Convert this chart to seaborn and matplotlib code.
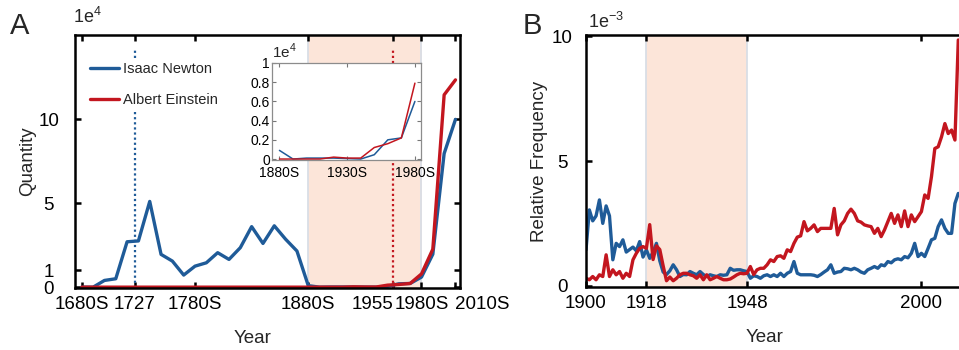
import matplotlib
matplotlib.use("Agg")
import matplotlib.pyplot as plt
import pandas as pd
import seaborn as sns

# panel A: quantity per decade (units of 1e4)
decades = list(range(1680, 2011, 10))
newton_qty = [0, 0, 0.4, 0.5, 2.7, 2.75, 5.1, 1.95, 1.55, 0.72,
              1.25, 1.45, 2.05, 1.65, 2.35, 3.6, 2.6, 3.65, 2.85, 2.15,
              0.09, 0.0, 0.01, 0.01, 0.01, 0.005, 0.0, 0.045, 0.2, 0.22,
              0.6, 1.96, 7.95, 9.98]
einstein_qty = [0] * 24 + [0.02, 0.01, 0.01, 0.12, 0.16, 0.22, 0.79, 2.26, 11.44, 12.33]

x_ticks_a = [1680, 1727, 1780, 1880, 1955, 1980, 2010]
x_labels_a = ["1680S", "1727", "1780S", "1880S", "1955", "1980S", "2010S"]
inset_ticks = [1880, 1930, 1980]
inset_labels = ["1880S", "1930S", "1980S"]

# panel B: relative frequency per year (units of 1e-3)
years = list(range(1900, 2012))
newton_freq = [1.44, 3.04, 2.6, 2.8, 3.44, 2.5, 3.2, 2.8, 1.04, 1.7,
               1.57, 1.84, 1.35, 1.45, 1.55, 1.4, 1.77, 1.15, 1.44, 1.1,
               1.35, 1.7, 1.0, 0.55, 0.45, 0.6, 0.84, 0.64, 0.37, 0.45,
               0.44, 0.57, 0.5, 0.44, 0.57, 0.45, 0.37, 0.44, 0.4, 0.37,
               0.44, 0.42, 0.44, 0.7, 0.62, 0.64, 0.64, 0.6, 0.57, 0.3,
               0.4, 0.37, 0.3, 0.4, 0.44, 0.37, 0.44, 0.37, 0.5, 0.37,
               0.5, 0.57, 0.97, 0.5, 0.44, 0.44, 0.44, 0.44, 0.42, 0.37,
               0.45, 0.55, 0.64, 0.84, 0.5, 0.55, 0.57, 0.7, 0.68, 0.64,
               0.7, 0.64, 0.55, 0.5, 0.64, 0.7, 0.77, 0.7, 0.84, 0.8,
               0.97, 0.92, 1.04, 1.08, 1.04, 1.17, 1.12, 1.3, 1.7, 1.17,
               1.3, 1.17, 1.5, 1.84, 1.9, 2.37, 2.64, 2.3, 2.1, 2.1,
               3.3, 3.7]
einstein_freq = [0.3, 0.24, 0.37, 0.24, 0.44, 0.37, 1.24, 0.37, 0.64, 0.44,
                 0.57, 0.3, 0.5, 0.37, 1.04, 1.3, 1.5, 1.57, 1.5, 2.45,
                 1.05, 1.6, 1.45, 0.8, 0.2, 0.35, 0.2, 0.3, 0.44, 0.5,
                 0.5, 0.44, 0.4, 0.3, 0.44, 0.24, 0.44, 0.24, 0.3, 0.37,
                 0.3, 0.24, 0.24, 0.27, 0.35, 0.44, 0.5, 0.48, 0.5, 0.77,
                 0.45, 0.64, 0.7, 0.7, 0.84, 1.04, 0.97, 1.17, 1.2, 1.1,
                 1.44, 1.37, 1.7, 1.95, 2.0, 2.57, 2.2, 2.3, 2.44, 2.17,
                 2.3, 2.3, 2.3, 2.3, 3.1, 2.04, 2.44, 2.6, 2.9, 3.07,
                 2.9, 2.6, 2.55, 2.44, 2.4, 2.37, 2.1, 2.3, 1.97, 2.24,
                 2.57, 2.9, 2.5, 2.84, 2.37, 3.0, 2.37, 2.84, 2.57, 2.77,
                 2.97, 3.64, 3.5, 4.37, 5.5, 5.57, 5.97, 6.5, 6.1, 6.24,
                 5.84, 9.85]
x_ticks_b = [1900, 1918, 1948, 2000]

names = ["Isaac Newton", "Albert Einstein"]
palette = {"Isaac Newton": "#1f5b98", "Albert Einstein": "#c3161f"}
shade = "#fce5d9"
shade_edge = "#d9dee6"

df_a = pd.DataFrame({
    "Year": decades * 2,
    "Quantity": newton_qty + einstein_qty,
    "Person": [names[0]] * len(decades) + [names[1]] * len(decades),
})
df_b = pd.DataFrame({
    "Year": years * 2,
    "Freq": newton_freq + einstein_freq,
    "Person": [names[0]] * len(years) + [names[1]] * len(years),
})

sns.set_style("ticks")
plt.rcParams["font.family"] = ["Liberation Sans", "DejaVu Sans"]
plt.rcParams["mathtext.fontset"] = "custom"
plt.rcParams["mathtext.rm"] = "Liberation Sans"

W, H = 959, 350
fig = plt.figure(figsize=(W / 100, H / 100), dpi=100)


def style_axes(ax, lw=1.8, size=13.5, length=4):
    for s in ax.spines.values():
        s.set_linewidth(lw)
        s.set_color("black")
    ax.tick_params(direction="in", top=True, right=True, length=length,
                   width=lw, labelsize=size, colors="black")


# ---------------- panel A ----------------
axA = fig.add_axes([75 / W, 62 / H, 385 / W, 253 / H])
axA.axvspan(1880, 1980, color=shade, lw=0, zorder=0)
axA.axvline(1880, color=shade_edge, lw=1.3, zorder=0.5)
axA.axvline(1980, color=shade_edge, lw=1.3, zorder=0.5)
axA.axvline(1727, ymax=0.95, color=palette[names[0]], lw=1.6, ls=(0, (1, 1.3)))
axA.axvline(1955, ymax=0.95, color=palette[names[1]], lw=1.6, ls=(0, (1, 1.3)))
sns.lineplot(data=df_a, x="Year", y="Quantity", hue="Person", hue_order=names,
             palette=palette, lw=2.4, ax=axA)
axA.set_xlim(1674, 2014)
axA.set_ylim(-0.05, 15)
axA.set_xticks(x_ticks_a, x_labels_a)
axA.set_yticks([0, 1, 5, 10], ["0", "1", "5", "10"])
style_axes(axA)
axA.tick_params(axis="x", pad=6)
axA.tick_params(axis="y", pad=19)
for lab in axA.get_yticklabels():
    lab.set_ha("center")
xlabs = axA.get_xticklabels()
xlabs[4].set_ha("right")
xlabs[6].set_ha("left")
axA.set_xlabel("Year", fontsize=13.5)
axA.set_ylabel("Quantity", fontsize=13.5)
axA.xaxis.set_label_coords(0.46, -0.165)
axA.yaxis.set_label_coords(-0.1, 0.5)
leg = axA.legend(loc="upper left", bbox_to_anchor=(0.012, 0.935), fontsize=10.5,
                 handlelength=2.0, handletextpad=0.25, labelspacing=1.2,
                 frameon=True, facecolor="white", edgecolor="none", framealpha=1,
                 borderpad=0.2)
for line in leg.get_lines():
    line.set_linewidth(2.4)
axA.text(-0.005, 1.03, r"1e$^{\mathregular{4}}$", transform=axA.transAxes,
         fontsize=13, ha="left", va="bottom")
fig.text(10 / W, 1 - 12 / H, "A", fontsize=21, ha="left", va="top")

# inset
axI = fig.add_axes([272 / W, 1 - 160 / H, 149 / W, 97 / H])
axI.set_facecolor("white")
sub = df_a[df_a["Year"].between(1880, 1980)]
sns.lineplot(data=sub, x="Year", y="Quantity", hue="Person", hue_order=names,
             palette=palette, lw=1.1, ax=axI, legend=False)
axI.set_xlim(1874.5, 1984.5)
axI.set_ylim(-0.01, 1.0)
axI.set_xticks(inset_ticks, inset_labels)
axI.set_yticks([0, 0.2, 0.4, 0.6, 0.8, 1.0], ["0", "0.2", "0.4", "0.6", "0.8", "1"])
for s in axI.spines.values():
    s.set_linewidth(0.9)
    s.set_color("#8c8c8c")
axI.tick_params(direction="in", top=True, right=True, length=3, width=0.8,
                labelsize=10, pad=1.5, colors="#777777", labelcolor="black")
axI.tick_params(axis="x", pad=4)
axI.set_xlabel("")
axI.set_ylabel("")
axI.text(0.0, 1.02, r"1e$^{\mathregular{4}}$", transform=axI.transAxes,
         fontsize=11, ha="left", va="bottom")

# ---------------- panel B ----------------
axB = fig.add_axes([586 / W, 63 / H, 379 / W, 252 / H])
axB.axvspan(1918, 1948, color=shade, lw=0, zorder=0)
axB.axvline(1918, color=shade_edge, lw=1.3, zorder=0.5)
axB.axvline(1948, color=shade_edge, lw=1.3, zorder=0.5)
sns.lineplot(data=df_b, x="Year", y="Freq", hue="Person", hue_order=names,
             palette=palette, lw=2.4, ax=axB, legend=False)
axB.set_xlim(1900, 2013)
axB.set_ylim(-0.05, 10.05)
axB.set_xticks(x_ticks_b, [str(t) for t in x_ticks_b])
axB.set_yticks([0, 5, 10], ["0", "5", "10"])
style_axes(axB)
axB.tick_params(axis="x", pad=6)
axB.tick_params(axis="y", pad=17)
for lab in axB.get_yticklabels():
    lab.set_ha("center")
axB.set_xlabel("Year", fontsize=13.5)
axB.set_ylabel("Relative Frequency", fontsize=13.5)
axB.xaxis.set_label_coords(0.47, -0.165)
axB.yaxis.set_label_coords(-0.1, 0.5)
axB.text(0.005, 1.01, r"1e$^{\mathregular{-3}}$", transform=axB.transAxes,
         fontsize=13, ha="left", va="bottom")
fig.text(523 / W, 1 - 12 / H, "B", fontsize=21, ha="left", va="top")

fig.savefig("out.png", dpi=100)
